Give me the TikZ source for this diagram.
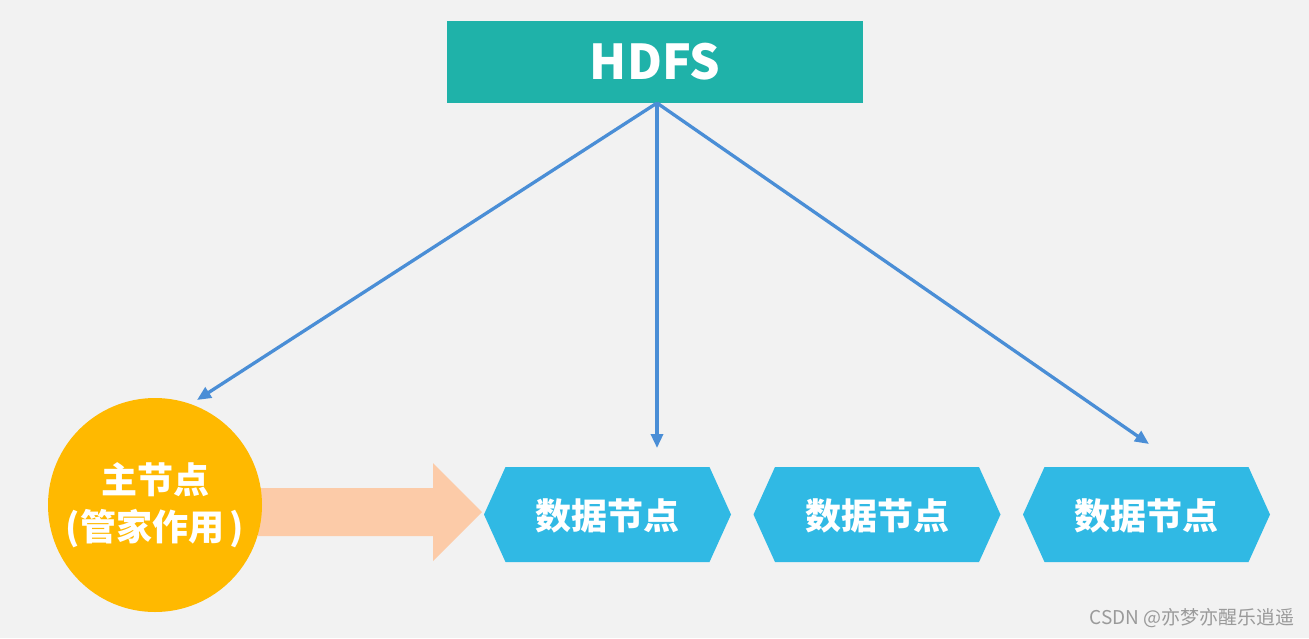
\documentclass[tikz,border=0pt]{standalone}
\usepackage{fontspec}
\setmainfont{Noto Sans CJK SC}
\usetikzlibrary{arrows.meta,shapes.arrows}
\definecolor{bg}{HTML}{F2F2F2}
\definecolor{teal}{HTML}{1FB2A9}
\definecolor{gold}{HTML}{FFB900}
\definecolor{peach}{HTML}{FCCBA8}
\definecolor{sky}{HTML}{30B9E4}
\definecolor{link}{HTML}{4A8ED6}
\definecolor{mark}{HTML}{9A9A9A}
\tikzset{
  hexlabel/.style={text=white,font=\bfseries\fontsize{36}{40}\selectfont,inner sep=0pt},
  conn/.style={draw=link,line width=3.3pt,-{Triangle[length=14pt,width=12pt]}},
}
\begin{document}
\begin{tikzpicture}[x=1pt,y=-1pt]
\fill[bg] (0,0) rectangle (1309,638);
\useasboundingbox (0,0) rectangle (1309,638);
% HDFS
\node[fill=teal,minimum width=416pt,minimum height=82pt,inner sep=0pt,text=white,font=\bfseries\fontsize{48}{52}\selectfont] (hdfs) at (655,62) {HDFS};
% big arrow
\fill[peach] (258,488) -- (433,488) -- (433,463) -- (482,512) -- (433,561) -- (433,536) -- (258,536) -- cycle;
% master
\node[circle,fill=gold,minimum size=214pt,inner sep=0pt,text=white,align=center,font=\bfseries\fontsize{36}{47}\selectfont] (master) at (155,505) {主节点\\(管家作用\,)};
% hexagons
\foreach \n/\cx in {d1/607.5,d2/877,d3/1146.5}{
  \fill[sky] (\cx-123.5,514.5) -- (\cx-102,467) -- (\cx+102,467) -- (\cx+123.5,514.5) -- (\cx+102,562) -- (\cx-102,562) -- cycle;
  \node[hexlabel] (\n) at (\cx,516) {数据节点};
}
\coordinate (src) at (657,103);
\coordinate (t1) at (197,400);
\coordinate (t2) at (657,448);
\coordinate (t3) at (1149,444);
\draw[conn] (src) -- (t1);
\draw[conn] (src) -- (t2);
\draw[conn] (src) -- (t3);
\node[anchor=east,text=mark,font=\fontsize{19}{21}\selectfont,inner sep=0pt] (wm) at (1295,618) {CSDN @亦梦亦醒乐逍遥};
\end{tikzpicture}
\end{document}
